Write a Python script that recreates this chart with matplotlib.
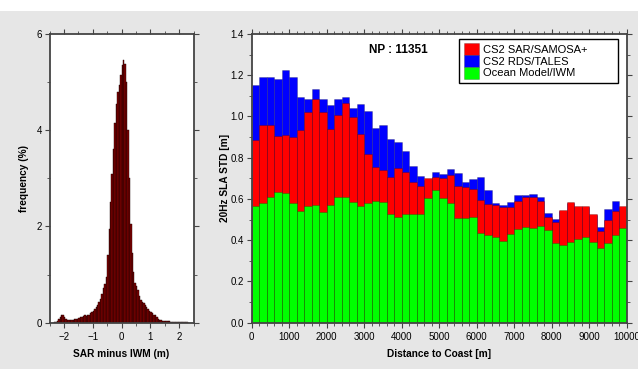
import numpy as np
import matplotlib.pyplot as plt
from matplotlib.ticker import MultipleLocator
from matplotlib.patches import Rectangle

plt.rcParams['font.family'] = ['Liberation Sans', 'DejaVu Sans']

# histogram of SAR minus IWM, 0.05 m bins from -2.5 to 2.5 (percent)
hist_edges = np.linspace(-2.5, 2.5, 101)
hist_freq = [
    0.0, 0.0, 0.0, 0.005, 0.01, 0.03, 0.07, 0.12, 0.17, 0.16,
    0.11, 0.07, 0.05, 0.05, 0.055, 0.05, 0.06, 0.07, 0.07, 0.085,
    0.09, 0.11, 0.12, 0.14, 0.15, 0.14, 0.16, 0.17, 0.20, 0.22,
    0.25, 0.28, 0.32, 0.37, 0.42, 0.50, 0.60, 0.72, 0.80, 0.95,
    1.40, 1.95, 2.50, 3.10, 3.60, 4.15, 4.55, 4.80, 4.95, 5.15,
    5.35, 5.45, 5.38, 5.00, 4.00, 3.00, 2.05, 1.45, 1.05, 0.82,
    0.76, 0.68, 0.56, 0.48, 0.44, 0.40, 0.36, 0.32, 0.28, 0.25,
    0.22, 0.20, 0.17, 0.15, 0.12, 0.08, 0.06, 0.05, 0.04, 0.03,
    0.03, 0.04, 0.04, 0.03, 0.02, 0.015, 0.01, 0.01, 0.01, 0.01,
    0.015, 0.01, 0.01, 0.01, 0.005, 0.005, 0.0, 0.0, 0.0, 0.0,
]

# SLA STD per 200 m distance-to-coast bin
dist = np.arange(0, 10000, 200)
rds_tales = [
    1.153, 1.193, 1.190, 1.183, 1.225, 1.193, 1.093, 1.085, 1.132, 1.083,
    1.056, 1.083, 1.093, 1.043, 1.061, 1.028, 0.946, 0.959, 0.889, 0.878,
    0.834, 0.760, 0.711, 0.690, 0.732, 0.720, 0.744, 0.724, 0.684, 0.697,
    0.708, 0.644, 0.579, 0.571, 0.587, 0.619, 0.619, 0.623, 0.611, 0.531,
    0.503, 0.540, 0.580, 0.560, 0.560, 0.520, 0.466, 0.551, 0.590, 0.560,
]
sar_samosa = [
    0.886, 0.957, 0.957, 0.905, 0.912, 0.899, 0.934, 1.023, 1.085, 1.023,
    0.941, 1.007, 1.064, 0.996, 0.915, 0.818, 0.757, 0.741, 0.705, 0.749,
    0.732, 0.684, 0.664, 0.700, 0.708, 0.700, 0.716, 0.665, 0.660, 0.648,
    0.595, 0.576, 0.569, 0.560, 0.563, 0.590, 0.611, 0.611, 0.592, 0.511,
    0.490, 0.547, 0.587, 0.566, 0.566, 0.526, 0.446, 0.498, 0.543, 0.567,
]
ocean_model = [
    0.567, 0.582, 0.611, 0.635, 0.631, 0.579, 0.543, 0.566, 0.569, 0.537,
    0.569, 0.608, 0.611, 0.587, 0.567, 0.579, 0.589, 0.587, 0.527, 0.514,
    0.527, 0.527, 0.527, 0.603, 0.644, 0.603, 0.579, 0.509, 0.506, 0.511,
    0.434, 0.425, 0.414, 0.398, 0.429, 0.454, 0.466, 0.461, 0.470, 0.450,
    0.388, 0.377, 0.390, 0.406, 0.414, 0.390, 0.361, 0.388, 0.425, 0.458,
]

W, H = 638, 369
bg = '#e6e6e6'
spine_col = '#444444'

fig = plt.figure(figsize=(W / 100, H / 100), dpi=100, facecolor=bg)
fig.patches.append(Rectangle((0, (H - 11) / H), 1, 11 / H, transform=fig.transFigure,
                             facecolor='white', edgecolor='none', zorder=-1))


def px_axes(x0, x1, y0, y1):
    return fig.add_axes([x0 / W, 1 - y1 / H, (x1 - x0) / W, (y1 - y0) / H])


def style(ax):
    for s in ax.spines.values():
        s.set_color(spine_col)
        s.set_linewidth(1.3)
    ax.tick_params(which='both', direction='out', top=True, right=True,
                   color=spine_col, labelsize=7)
    ax.tick_params(axis='x', pad=3.5)
    ax.tick_params(axis='y', pad=2)
    ax.tick_params(which='major', length=3.5, width=0.8)
    ax.tick_params(which='minor', length=2, width=0.6)


# left: histogram
ax1 = px_axes(49.5, 193.5, 34, 322.7)
ax1.bar(hist_edges[:-1], hist_freq, width=0.05, align='edge',
        color='#800000', edgecolor='#1a0000', linewidth=0.3)
ax1.set_xlim(-2.5, 2.5)
ax1.set_ylim(0, 6)
ax1.xaxis.set_major_locator(MultipleLocator(1))
ax1.xaxis.set_minor_locator(MultipleLocator(0.5))
ax1.yaxis.set_major_locator(MultipleLocator(2))
ax1.yaxis.set_minor_locator(MultipleLocator(1))
ax1.set_xticks([-2, -1, 0, 1, 2])
ax1.set_xticklabels(['\u22122', '\u22121', '0', '1', '2'])
style(ax1)
ax1.set_xlabel('SAR minus IWM (m)', fontsize=7.3, fontweight='bold', labelpad=5)
ax1.set_ylabel('frequency (%)', fontsize=7.3, fontweight='bold', labelpad=5.5)

# right: overlaid bars
ax2 = px_axes(251.7, 626.7, 34, 322.7)
ax2.bar(dist, rds_tales, width=200, align='edge', color='#0000ff',
        edgecolor=(0, 0, 0, 0.35), linewidth=0.4, label='CS2 RDS/TALES')
ax2.bar(dist, sar_samosa, width=200, align='edge', color='#ff0000',
        edgecolor=(0, 0, 0, 0.35), linewidth=0.4, label='CS2 SAR/SAMOSA+')
ax2.bar(dist, ocean_model, width=200, align='edge', color='#00ff00',
        edgecolor=(0, 0, 0, 0.35), linewidth=0.4, label='Ocean Model/IWM')
ax2.set_xlim(0, 10000)
ax2.set_ylim(0, 1.4)
ax2.xaxis.set_major_locator(MultipleLocator(1000))
ax2.xaxis.set_minor_locator(MultipleLocator(200))
ax2.yaxis.set_major_locator(MultipleLocator(0.2))
ax2.yaxis.set_minor_locator(MultipleLocator(0.1))
ax2.yaxis.set_major_formatter(lambda v, p: f'{v:.1f}')
style(ax2)
ax2.set_xlabel('Distance to Coast [m]', fontsize=7.3, fontweight='bold', labelpad=5)
ax2.set_ylabel('20Hz SLA STD [m]', fontsize=7.3, fontweight='bold', labelpad=0.5)
ax2.text(3900, 1.32, 'NP : 11351', fontsize=8.5, fontweight='bold',
         ha='center', va='center')

h, l = ax2.get_legend_handles_labels()
order = [1, 0, 2]
leg = ax2.legend([h[i] for i in order], [l[i] for i in order],
                 loc='upper left', bbox_to_anchor=(0.553, 0.0, 0.424, 0.983),
                 mode='expand', borderaxespad=0, fontsize=8,
                 handlelength=1.35, handleheight=1.25, handletextpad=0.36,
                 labelspacing=0.0, borderpad=0.4,
                 fancybox=False, framealpha=1)
leg.get_frame().set_edgecolor('black')
leg.get_frame().set_linewidth(1.0)

fig.savefig('out.png', dpi=100, facecolor=fig.get_facecolor())
